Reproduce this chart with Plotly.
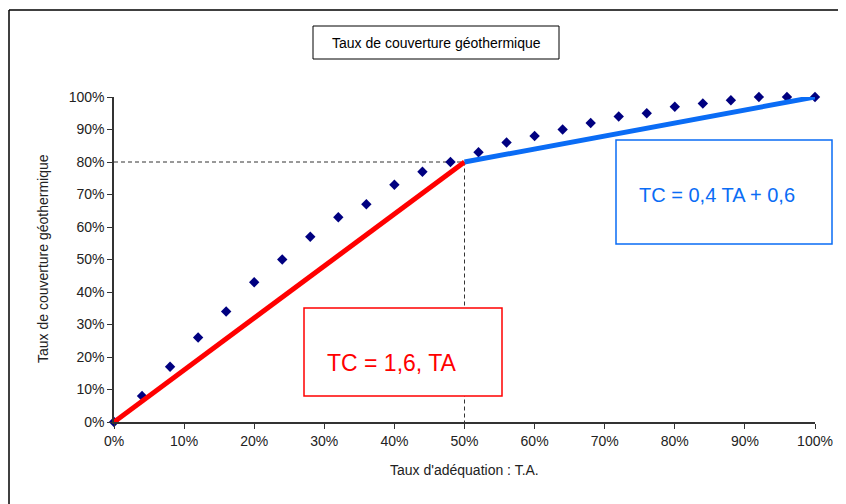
import plotly.graph_objects as go

# Data
ta_points = [0, 4, 8, 12, 16, 20, 24, 28, 32, 36, 40, 44, 48, 52, 56, 60, 64, 68, 72, 76, 80, 84, 88, 92, 96, 100]
tc_points = [0, 8, 17, 26, 34, 43, 50, 57, 63, 67, 73, 77, 80, 83, 86, 88, 90, 92, 94, 95, 97, 98, 99, 100, 100, 100]

ta_low = [0, 50]
tc_low = [0, 80]
ta_high = [50, 100]
tc_high = [80, 100]

ref_x = [0, 50, 50]
ref_y = [80, 80, 0]

tick_vals = [0, 10, 20, 30, 40, 50, 60, 70, 80, 90, 100]
tick_text = [f"{v}%" for v in tick_vals]

title_text = "Taux de couverture géothermique"
x_title = "Taux d'adéquation : T.A."
y_title = "Taux de couverture géothermique"
eq_low = "TC = 1,6, TA"
eq_high = "TC = 0,4 TA + 0,6"

FONT = "Liberation Sans, Arial, sans-serif"

fig = go.Figure()

fig.add_trace(go.Scatter(x=ref_x, y=ref_y, mode="lines",
                         line=dict(color="#333333", width=1, dash="4px,3px"),
                         showlegend=False, hoverinfo="skip"))
fig.add_trace(go.Scatter(x=ta_points, y=tc_points, mode="markers",
                         marker=dict(symbol="diamond", size=8, color="#000080"),
                         cliponaxis=False, showlegend=False))
fig.add_trace(go.Scatter(x=ta_low, y=tc_low, mode="lines",
                         line=dict(color="#FF0000", width=5),
                         cliponaxis=False, showlegend=False))
fig.add_trace(go.Scatter(x=ta_high, y=tc_high, mode="lines",
                         line=dict(color="#0A6CF5", width=5),
                         cliponaxis=False, showlegend=False))

OFF = 8  # page body offset
W, H = 846 - OFF, 504 - OFF
# plot area in page pixels: x 114..815, y 97..422
L = 114 - OFF
T = 97 - OFF
R = W - (815 - OFF)
B = H - (422 - OFF)
pw, ph = 815 - 114, 422 - 97


def px(xp):
    return (xp - 114) / pw


def py(yp):
    return (422 - yp) / ph


shapes = [
    # outer frame: top and left edges (right and bottom lie outside the picture)
    dict(type="line", xref="paper", yref="paper", x0=px(9), x1=px(870), y0=py(10), y1=py(10),
         line=dict(color="black", width=1.5)),
    dict(type="line", xref="paper", yref="paper", x0=px(9), x1=px(9), y0=py(10), y1=py(530),
         line=dict(color="black", width=1.5)),
    # title box
    dict(type="rect", xref="paper", yref="paper", x0=px(313), x1=px(559), y0=py(59), y1=py(26),
         line=dict(color="black", width=1), fillcolor="white"),
    # red box
    dict(type="rect", xref="paper", yref="paper", x0=px(304), x1=px(502), y0=py(396), y1=py(308),
         line=dict(color="#FF0000", width=1.5), fillcolor="white"),
    # blue box
    dict(type="rect", xref="paper", yref="paper", x0=px(616), x1=px(832), y0=py(244), y1=py(140),
         line=dict(color="#0A6CF5", width=1.5), fillcolor="white"),
]

annotations = [
    dict(text=title_text, xref="paper", yref="paper", x=px(436), y=py(42.5), showarrow=False,
         xanchor="center", yanchor="middle", font=dict(family=FONT, size=14, color="black")),
    dict(text=eq_low, xref="paper", yref="paper", x=px(325), y=py(363), showarrow=False,
         xanchor="left", yanchor="middle", font=dict(family=FONT, size=23, color="#FF0000")),
    dict(text=eq_high, xref="paper", yref="paper", x=px(637), y=py(195), showarrow=False,
         xanchor="left", yanchor="middle", font=dict(family=FONT, size=20, color="#0A6CF5")),
    dict(text=x_title, xref="paper", yref="paper", x=px(465), y=py(470), showarrow=False,
         xanchor="center", yanchor="middle", font=dict(family=FONT, size=14, color="#222222")),
    dict(text=y_title, xref="paper", yref="paper", x=px(43), y=py(259), showarrow=False,
         textangle=-90, xanchor="center", yanchor="middle", font=dict(family=FONT, size=14, color="#222222")),
]

fig.update_layout(
    width=W, height=H,
    margin=dict(l=L, r=R, t=T, b=B, pad=0),
    paper_bgcolor="white", plot_bgcolor="white",
    shapes=shapes, annotations=annotations,
    font=dict(family=FONT, size=14, color="#222222"),
    xaxis=dict(range=[0, 100], tickmode="array", tickvals=tick_vals, ticktext=tick_text,
               showgrid=False, zeroline=False,
               showline=True, linecolor="#333333", linewidth=1.5, ticks="outside", ticklen=5,
               tickcolor="#333333", tickfont=dict(family=FONT, size=14, color="#222222")),
    yaxis=dict(range=[0, 100], tickmode="array", tickvals=tick_vals, ticktext=tick_text,
               showgrid=False, zeroline=False,
               showline=True, linecolor="#333333", linewidth=1.5, ticks="outside", ticklen=5,
               tickcolor="#333333", tickfont=dict(family=FONT, size=14, color="#222222")),
)

fig.write_html("out.html")
